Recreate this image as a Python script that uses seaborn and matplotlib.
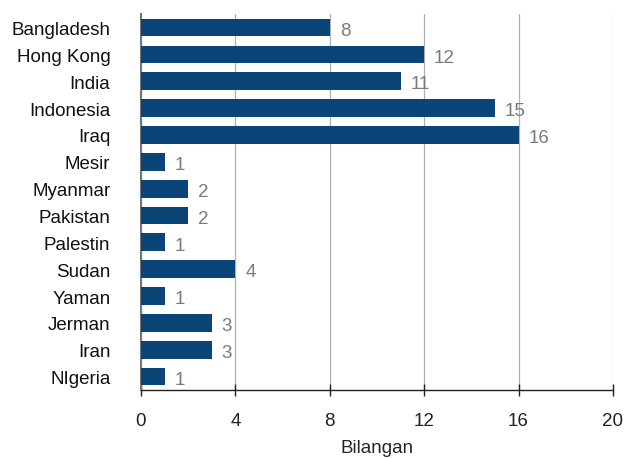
import pandas as pd
import seaborn as sns
import matplotlib.pyplot as plt

# Data
countries = ["Bangladesh", "Hong Kong", "India", "Indonesia", "Iraq", "Mesir", "Myanmar",
             "Pakistan", "Palestin", "Sudan", "Yaman", "Jerman", "Iran", "NIgeria"]
counts = [8, 12, 11, 15, 16, 1, 2, 2, 1, 4, 1, 3, 3, 1]

df = pd.DataFrame({"country": countries, "count": counts})

sns.set_style("white")
plt.rcParams["font.family"] = ["Liberation Sans", "DejaVu Sans"]

fig = plt.figure(figsize=(6.25, 4.6), dpi=100)
ax = fig.add_axes([0.2256, 0.15, 0.755, 0.817])

sns.barplot(data=df, x="count", y="country", color="#0b4477", saturation=1,
            width=0.66, linewidth=0, ax=ax, zorder=3)

# value labels
for i, v in enumerate(counts):
    ax.text(v + 0.42, i + 0.1, str(v), va="center", ha="left", fontsize=13.5,
            color="#7a7a7a", zorder=4)

ax.set_xlim(0, 20)
ax.set_ylim(len(countries) - 0.5, -0.5)
ax.set_xticks(range(0, 21, 4))
ax.xaxis.grid(True, color="#b0b0b0", linewidth=0.9, zorder=0)
ax.set_axisbelow(True)

for s in ["top", "right"]:
    ax.spines[s].set_visible(False)
ax.spines["left"].set_color("#777777")
ax.spines["left"].set_linewidth(1.5)
ax.spines["bottom"].set_color("#222222")
ax.spines["bottom"].set_linewidth(1.0)

ax.tick_params(axis="x", direction="inout", length=8, width=1, colors="#222222",
               labelsize=13.5, pad=12, bottom=True)
ax.tick_params(axis="y", length=0, labelsize=13.5, pad=22, labelcolor="#111111")

ax.set_xlabel("Bilangan", fontsize=13.5, labelpad=7)
ax.set_ylabel("")

plt.savefig("out.png", dpi=100)
